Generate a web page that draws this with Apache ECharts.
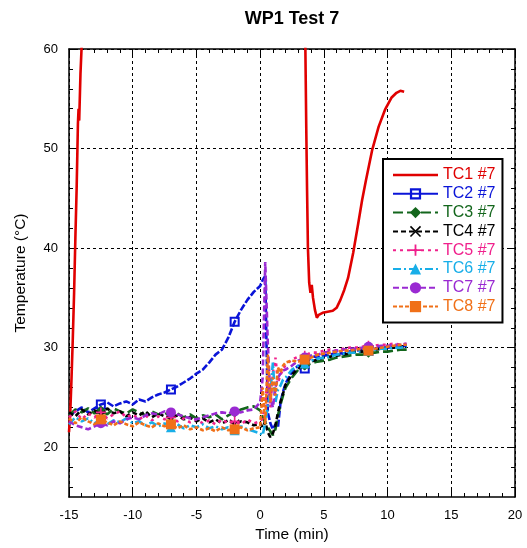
<!DOCTYPE html>
<html>
<head>
<meta charset="utf-8">
<script src="https://cdn.jsdelivr.net/npm/echarts@6/dist/echarts.min.js"></script>
<style>html,body{margin:0;padding:0;background:#fff}#c{width:527px;height:548px}</style>
</head>
<body>
<div id="c"></div>
<script>
// ---- data ----
const seriesNames = ['TC1 #7','TC2 #7','TC3 #7','TC4 #7','TC5 #7','TC6 #7','TC7 #7','TC8 #7'];
const xTicks = [-15,-10,-5,0,5,10,15,20];
const yTicks = [20,30,40,50,60];
const yMinorTicks = [16,18,22,24,26,28,32,34,36,38,42,44,46,48,52,54,56,58];
const markerTimes = [-12.5,-7,-2,3.5,8.5];

const tc1Time = [-15,-14.9,-14.8,-14.7,-14.6,-14.5,-14.4,-14.3,-14.25,-14.2,-14.1,-14.0,-13.8,
  3.4,3.55,3.62,3.68,3.75,3.85,3.95,4.05,4.15,4.3,4.45,4.6,4.9,5.3,5.7,6.0,6.3,6.6,6.9,7.3,7.7,8.0,8.3,8.8,9.3,9.8,10.3,10.7,11.0,11.3];
const tc1 = [21.5,23.5,27.0,31.0,35.5,41.0,46.0,52.5,54.0,52.8,57.5,60.5,70,
  70,60,52,46,40,36.5,35.5,36.3,35.0,33.8,33.0,33.3,33.5,33.6,33.7,34.0,34.8,35.8,37.0,39.5,42.5,44.8,46.8,49.9,52.2,53.9,55.1,55.6,55.8,55.7];

const time = [-15,-14.5,-14,-13.5,-13,-12.5,-12,-11.5,-11,-10.5,-10,-9.5,-9,-8.5,-8,-7.5,-7,-6.5,-6,-5.5,-5,-4.5,-4,-3.5,-3,-2.5,-2,-1.5,-1,-0.5,
  0,0.2,0.4,0.6,0.8,1,1.2,1.4,1.6,1.8,2,
  2.5,3,3.5,4,4.5,5,5.5,6,6.5,7,7.5,8,8.5,9,9.5,10,10.5,11,11.5];

const tc2 = [23.2,23.6,24.0,23.5,23.9,24.3,24.5,24.1,24.4,24.6,24.3,24.8,24.6,25.0,25.3,25.5,25.8,26.1,26.5,26.9,27.4,27.8,28.5,29.3,29.8,31.0,32.6,33.8,34.8,35.6,
  36.2,36.8,37.2,23.5,22.4,21.8,22.3,22.0,24.5,25.6,26.4,
  27.6,28.2,27.9,29.2,29.0,29.2,29.3,29.5,29.4,29.6,29.7,29.8,29.7,29.9,30.0,30.0,30.1,30.1,30.2];
const tc3 = [23.2,23.8,23.5,23.9,23.4,23.7,23.3,23.9,23.6,23.4,23.8,23.5,23.2,23.6,23.3,23.5,23.1,23.4,23.0,23.3,22.9,23.2,23.0,23.3,22.8,23.2,23.5,23.8,24.0,24.1,
  23.7,23.0,22.5,22.0,21.6,21.2,21.8,23.2,24.3,25.2,26.0,
  27.0,27.8,28.2,28.4,28.6,28.7,28.8,29.0,29.1,29.2,29.3,29.3,29.5,29.5,29.6,29.6,29.7,29.8,29.8];
const tc4 = [23.5,23.1,23.8,23.3,23.7,23.2,23.9,23.4,23.6,23.1,23.5,23.2,23.6,23.0,23.4,23.1,22.9,23.2,22.8,23.0,22.6,22.9,22.5,22.8,22.4,22.7,22.3,22.6,22.5,22.2,
  22.4,22.0,22.6,21.5,21.0,21.4,22.2,23.5,24.6,25.4,26.3,
  27.3,27.9,28.3,28.6,28.8,29.0,29.1,29.2,29.3,29.4,29.6,29.6,29.8,29.8,29.9,30.0,30.0,30.1,30.1];
const tc5 = [23.0,23.6,22.8,23.4,23.0,23.5,22.9,23.3,23.6,23.0,23.3,22.8,23.2,22.7,23.1,22.8,23.0,22.6,22.9,22.5,22.8,22.4,22.7,22.3,22.8,22.4,22.6,22.3,22.8,22.4,
  22.6,22.9,24.5,26.8,24.0,27.5,29.0,26.5,27.3,27.8,28.3,
  28.8,29.1,29.2,29.5,29.5,29.7,29.8,29.7,29.9,30.0,30.0,30.1,30.2,30.2,30.3,30.3,30.4,30.3,30.4];
const tc6 = [22.3,23.0,22.6,22.9,22.4,22.8,22.3,22.7,22.5,22.9,22.4,22.6,22.2,22.5,22.1,22.4,22.0,22.3,21.9,22.2,22.0,22.3,21.9,22.1,21.8,22.0,21.7,22.1,21.8,21.6,
  21.4,21.2,22.5,24.0,25.5,28.5,24.5,25.8,26.2,26.8,27.0,
  27.8,28.2,28.4,28.7,28.9,29.0,29.1,29.3,29.4,29.5,29.5,29.7,29.7,29.8,29.9,29.9,30.0,30.0,30.1];
const tc7 = [22.6,22.2,22.0,21.8,22.1,22.4,22.2,22.6,22.4,22.8,23.0,22.8,23.2,23.4,23.3,23.6,23.5,23.3,23.1,22.9,22.8,23.0,23.2,23.4,23.5,23.4,23.6,23.5,23.7,23.8,
  24.5,27.0,38.6,30.5,25.0,24.0,26.0,27.0,27.4,27.7,27.8,
  28.2,28.7,29.0,29.2,29.3,29.5,29.6,29.7,29.8,29.9,29.9,30.0,30.1,30.1,30.2,30.2,30.3,30.3,30.4];
const tc8 = [22.9,22.4,23.0,22.6,22.3,22.8,22.5,22.2,22.6,22.3,22.1,22.5,22.2,22.0,22.4,22.1,22.3,21.9,22.2,21.8,22.0,21.7,21.9,21.6,22.0,21.7,21.8,22.0,21.7,21.9,
  22.0,26.0,22.3,29.3,24.5,27.0,25.2,28.0,27.5,28.2,28.5,
  28.7,28.6,28.8,29.0,29.3,29.4,29.5,29.6,29.7,29.7,29.8,29.9,29.7,29.9,30.0,30.1,30.2,30.3,30.3];

// ---- styles ----
const FONT = 'Liberation Sans, Arial, sans-serif';
const colors = ['#e00000','#0a14d8','#13661c','#000000','#f0208c','#18aee8','#9a2ad2','#f07018'];
const dashes = ['solid',[7,2],[10,4],[5,3],[3,4],[8,3,2,3],[6,3],[4,2]];
const symbols = [
  'none',
  'path://M0,0 L10,0 L10,10 L0,10 Z M2,2 L2,8 L8,8 L8,2 Z',
  'diamond',
  'path://M1,0 L5,4 L9,0 L10,1 L6,5 L10,9 L9,10 L5,6 L1,10 L0,9 L4,5 L0,1 Z',
  'path://M4.2,0 L5.8,0 L5.8,4.2 L10,4.2 L10,5.8 L5.8,5.8 L5.8,10 L4.2,10 L4.2,5.8 L0,5.8 L0,4.2 L4.2,4.2 Z',
  'triangle',
  'circle',
  'rect'
];
const values = [null, tc2, tc3, tc4, tc5, tc6, tc7, tc8];

function buildData(ts, vs, mark) {
  return ts.map((t, i) => {
    if (mark && markerTimes.indexOf(t) >= 0) return { value: [t, vs[i]], symbolSize: 10 };
    return [t, vs[i]];
  });
}

const series = seriesNames.map((name, k) => {
  const isRed = k === 0;
  return {
    name: name,
    type: 'line',
    xAxisIndex: 0,
    yAxisIndex: 0,
    data: isRed ? buildData(tc1Time, tc1, false) : buildData(time, values[k], true),
    symbol: isRed ? 'none' : symbols[k],
    symbolSize: 0,
    showSymbol: !isRed,
    silent: true,
    animation: false,
    clip: true,
    lineStyle: { color: colors[k], width: 2.6, type: dashes[k] },
    itemStyle: { color: colors[k] },
    z: 2 + k
  };
});

const axisLineStyle = { show: true, onZero: false, lineStyle: { color: '#000', width: 1.5 } };
const noLine = { show: false, onZero: false };

const option = {
  animation: false,
  backgroundColor: '#fff',
  textStyle: { fontFamily: FONT },
  title: {
    text: 'WP1 Test 7',
    left: 292,
    textAlign: 'center',
    top: 10,
    padding: 0,
    textStyle: { fontFamily: FONT, fontSize: 18, fontWeight: 'bold', color: '#000' }
  },
  grid: { left: 69, right: 12, top: 49, bottom: 51, containLabel: false },
  legend: {
    orient: 'vertical',
    left: 383,
    top: 159,
    padding: [8, 7, 8, 9],
    itemWidth: 45,
    itemHeight: 14,
    itemGap: 2.8,
    backgroundColor: '#fff',
    borderColor: '#000',
    borderWidth: 2,
    borderRadius: 0,
    selectedMode: false,
    z: 20,
    textStyle: { fontFamily: FONT, fontSize: 16, lineHeight: 16 },
    data: seriesNames.map((n, k) => {
      const d = { name: n, textStyle: { color: colors[k], fontFamily: FONT, fontSize: 16 } };
      if (k === 0) d.icon = 'path://M0,0 L40,0 L40,2.2 L0,2.2 Z';
      if (k === 1) d.lineStyle = { type: 'solid' };
      return d;
    })
  },
  xAxis: [
    {
      type: 'value', position: 'bottom', min: -15, max: 20, interval: 5,
      name: 'Time (min)', nameLocation: 'middle', nameGap: 28,
      nameTextStyle: { fontFamily: FONT, fontSize: 15.5, color: '#000' },
      axisLine: axisLineStyle,
      axisTick: { show: true, inside: true, length: 7, lineStyle: { color: '#000', width: 1 } },
      minorTick: { show: true, splitNumber: 5, length: 4, lineStyle: { color: '#000', width: 1 } },
      axisLabel: { fontFamily: FONT, fontSize: 13, color: '#000', margin: 12, customValues: xTicks },
      splitLine: { show: true, lineStyle: { color: '#000', width: 1, type: [3, 3] } }
    },
    {
      type: 'value', position: 'top', min: -15, max: 20, interval: 5,
      axisLine: axisLineStyle,
      axisTick: { show: true, inside: true, length: 7, lineStyle: { color: '#000', width: 1 } },
      minorTick: { show: true, splitNumber: 5, length: 4, lineStyle: { color: '#000', width: 1 } },
      axisLabel: { show: false },
      splitLine: { show: false }
    }
  ],
  yAxis: [
    {
      type: 'value', position: 'left', min: 15, max: 60,
      name: 'Temperature (°C)', nameLocation: 'middle', nameGap: 40, nameRotate: 90,
      nameTextStyle: { fontFamily: FONT, fontSize: 15.5, color: '#000' },
      axisLine: axisLineStyle,
      axisTick: { show: true, inside: true, length: 7, customValues: yTicks, lineStyle: { color: '#000', width: 1 } },
      axisLabel: { fontFamily: FONT, fontSize: 13, color: '#000', margin: 11, customValues: yTicks },
      splitLine: { show: true, lineStyle: { color: '#000', width: 1, type: [3, 3] } }
    },
    {
      type: 'value', position: 'left', min: 15, max: 60,
      axisLine: noLine,
      axisTick: { show: true, inside: true, length: 4, customValues: yMinorTicks, lineStyle: { color: '#000', width: 1 } },
      axisLabel: { show: false },
      splitLine: { show: false }
    },
    {
      type: 'value', position: 'right', min: 15, max: 60,
      axisLine: axisLineStyle,
      axisTick: { show: true, inside: true, length: 7, customValues: yTicks, lineStyle: { color: '#000', width: 1 } },
      axisLabel: { show: false },
      splitLine: { show: false }
    },
    {
      type: 'value', position: 'right', min: 15, max: 60,
      axisLine: noLine,
      axisTick: { show: true, inside: true, length: 4, customValues: yMinorTicks, lineStyle: { color: '#000', width: 1 } },
      axisLabel: { show: false },
      splitLine: { show: false }
    }
  ],
  series: series
};

const chart = echarts.init(document.getElementById('c'), null, { renderer: 'canvas' });
chart.setOption(option);
</script>
</body>
</html>
